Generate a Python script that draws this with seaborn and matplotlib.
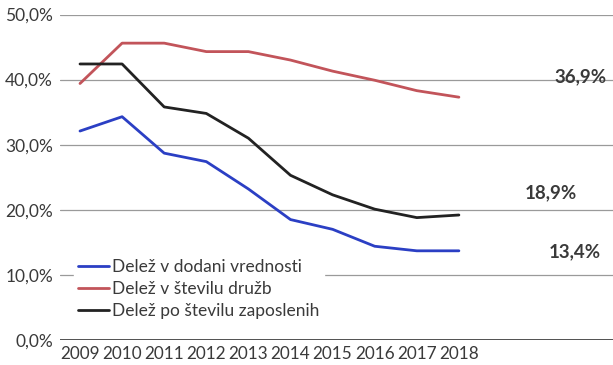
import matplotlib
matplotlib.use("Agg")
import matplotlib.pyplot as plt
import pandas as pd
import seaborn as sns

YEARS = [2009, 2010, 2011, 2012, 2013, 2014, 2015, 2016, 2017, 2018]
DODANA_VREDNOST = [32.1, 34.3, 28.7, 27.4, 23.2, 18.5, 17.0, 14.4, 13.7, 13.7]
STEVILO_DRUZB = [39.4, 45.6, 45.6, 44.3, 44.3, 43.0, 41.3, 39.9, 38.3, 37.3]
ZAPOSLENI = [42.4, 42.4, 35.8, 34.8, 31.0, 25.3, 22.3, 20.1, 18.8, 19.2]

SERIES = {
    "Delež v dodani vrednosti": DODANA_VREDNOST,
    "Delež v številu družb": STEVILO_DRUZB,
    "Delež po številu zaposlenih": ZAPOSLENI,
}
COLORS = ["#2b3fc4", "#c2545a", "#222222"]
END_LABELS = ["13,4%", "36,9%", "18,9%"]
Y_TICKS = [0, 10, 20, 30, 40, 50]
TEXT_COLOR = "#3a3a3a"


def build_frame() -> pd.DataFrame:
    rows = []
    for name, values in SERIES.items():
        for year, val in zip(YEARS, values):
            rows.append({"leto": year, "delez": val, "serija": name})
    return pd.DataFrame(rows)


def main():
    sns.set_style("white")
    plt.rcParams["font.family"] = ["Lato", "DejaVu Sans"]

    data = build_frame()
    fig = plt.figure(figsize=(6.13, 3.65), dpi=100)
    ax = fig.add_axes([60 / 613, 1 - 340 / 365, 1 - 60 / 613, (340 - 14.5) / 365])

    # horizontal grid, darker base line
    for y in Y_TICKS[1:]:
        ax.axhline(y, color="#9a9a9a", lw=0.9, zorder=0)
    ax.axhline(0, color="#333333", lw=1.2, zorder=0)

    sns.lineplot(data=data, x="leto", y="delez", hue="serija",
                 palette=COLORS, linewidth=2.0, ax=ax)

    ax.set_xlim(2008.525, 2021.66)
    ax.set_ylim(0, 50)
    ax.set_xticks(YEARS)
    ax.set_xticklabels([str(y) for y in YEARS], fontsize=12.3, color=TEXT_COLOR)
    ax.set_yticks(Y_TICKS)
    ax.set_yticklabels([f"{y},0%" for y in Y_TICKS], fontsize=12.5, color=TEXT_COLOR)
    ax.tick_params(length=0, pad=5)
    ax.tick_params(axis="x", pad=4)
    ax.set_xlabel("")
    ax.set_ylabel("")
    for s in ax.spines.values():
        s.set_visible(False)

    ends = [(2020.76, 13.5), (2020.88, 40.5), (2020.19, 22.6)]
    for (x, y), lab in zip(ends, END_LABELS):
        ax.text(x, y, lab, fontsize=13.5, fontweight="bold", color=TEXT_COLOR,
                ha="center", va="center")

    leg = ax.legend(loc="lower left", bbox_to_anchor=(0.025, 0.05), frameon=True,
                    fontsize=12.5, handlelength=1.8, handletextpad=0.15,
                    labelspacing=0.35, borderpad=0.25, borderaxespad=0.0)
    leg.get_frame().set_facecolor("white")
    leg.get_frame().set_edgecolor("white")
    leg.get_frame().set_alpha(1.0)
    for t in leg.get_texts():
        t.set_color(TEXT_COLOR)

    fig.savefig("out.png", dpi=100)
    plt.close(fig)


if __name__ == "__main__":
    main()
